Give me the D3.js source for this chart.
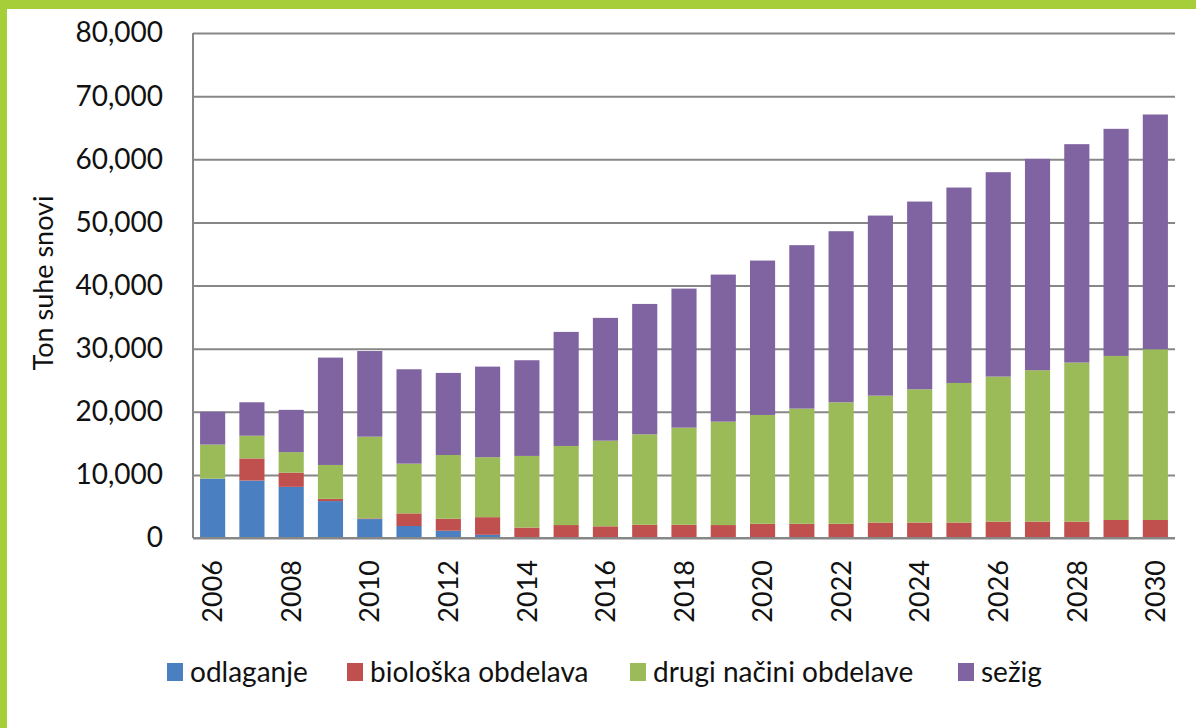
<!DOCTYPE html>
<html>
<head>
<meta charset="utf-8">
<script src="https://cdn.jsdelivr.net/npm/d3@7"></script>
<style>
  body { margin: 0; background: #fff; }
  text { font-family: Lato, "Open Sans", sans-serif; fill: #111; }
</style>
</head>
<body>
<div id="chart"></div>
<script>
// data (tonnes of dry matter)
var years = d3.range(2006, 2031);
var seriesNames = ["odlaganje", "biološka obdelava", "drugi načini obdelave", "sežig"];
var odlaganje = [9400, 9100, 8100, 5850, 3000, 1900, 1150, 500, 0, 0, 0, 0, 0, 0, 0, 0, 0, 0, 0, 0, 0, 0, 0, 0, 0];
var bioloska = [0, 3500, 2250, 350, 100, 2000, 1900, 2800, 1650, 2050, 1850, 2100, 2100, 2050, 2250, 2250, 2250, 2450, 2450, 2450, 2600, 2600, 2600, 2850, 2850];
var drugi = [5400, 3600, 3250, 5370, 12950, 7880, 10100, 9500, 11350, 12530, 13570, 14330, 15380, 16380, 17240, 18250, 19250, 20100, 21110, 22110, 22970, 23980, 25190, 25990, 27050];
var sezig = [5200, 5300, 6700, 17010, 13570, 14950, 13000, 14350, 15160, 18070, 19450, 20650, 22030, 23300, 24460, 25890, 27100, 28530, 29740, 30960, 32380, 33480, 34600, 35980, 37190];
var yTicks = [0, 10000, 20000, 30000, 40000, 50000, 60000, 70000, 80000];
var colors = ["#4a7fc1", "#c0504d", "#9bbb59", "#8064a2"];

var W = 1196, H = 728;
var margin = {top: 33, right: 21, bottom: 190, left: 193},
	width = W - margin.left - margin.right,
	height = H - margin.top - margin.bottom;

var svg = d3.select("#chart").append("svg")
	.attr("width", W)
	.attr("height", H);

svg.append("rect").attr("width", W).attr("height", H).attr("fill", "#fff");
// green frame (left + top)
svg.append("rect").attr("x", 0).attr("y", 0).attr("width", 7).attr("height", H).attr("fill", "#a6ce39");
svg.append("rect").attr("x", 0).attr("y", 0).attr("width", W).attr("height", 9).attr("fill", "#a6ce39");

var g = svg.append("g")
	.attr("transform", "translate(" + margin.left + "," + margin.top + ")");

var table = years.map(function(yr, i) {
	return {year: yr, "odlaganje": odlaganje[i], "biološka obdelava": bioloska[i],
		"drugi načini obdelave": drugi[i], "sežig": sezig[i]};
});

var x = d3.scaleBand().domain(years).range([0, width]).paddingInner(0.36).paddingOuter(0.18);
var y = d3.scaleLinear().domain([0, 80000]).range([height, 0]);

// gridlines
g.append("g")
	.attr("class", "grid")
	.call(d3.axisLeft(y).tickValues(yTicks).tickSize(-width).tickFormat(""))
	.call(function(s) {
		s.select(".domain").remove();
		s.selectAll("line").attr("stroke", "#878787").attr("stroke-width", 2);
	});

var stack = d3.stack().keys(seriesNames);
var layers = stack(table);

g.selectAll(".layer")
	.data(layers)
	.enter().append("g")
	.attr("class", "layer")
	.attr("fill", function(d, i) { return colors[i]; })
	.selectAll("rect")
	.data(function(d) { return d; })
	.enter().append("rect")
	.attr("x", function(d) { return x(d.data.year); })
	.attr("y", function(d) { return y(d[1]); })
	.attr("width", x.bandwidth())
	.attr("height", function(d) { return y(d[0]) - y(d[1]); });

// axis lines
g.append("line").attr("x1", 0).attr("x2", 0).attr("y1", 0).attr("y2", height)
	.attr("stroke", "#878787").attr("stroke-width", 2);
g.append("line").attr("x1", 0).attr("x2", width).attr("y1", height).attr("y2", height)
	.attr("stroke", "#878787").attr("stroke-width", 2);

// y axis labels
g.append("g")
	.call(d3.axisLeft(y).tickValues(yTicks).tickSize(0).tickPadding(30).tickFormat(d3.format(",")))
	.call(function(s) {
		s.select(".domain").remove();
		s.selectAll("text").style("font-size", "28px").style("font-family", "Lato").attr("fill", "#111");
	});

// x axis labels (every second year)
g.append("g")
	.attr("transform", "translate(0," + height + ")")
	.call(d3.axisBottom(x).tickValues(years.filter(function(d) { return d % 2 === 0; })).tickSize(0))
	.call(function(s) {
		s.select(".domain").remove();
		s.selectAll("text")
			.attr("transform", "rotate(-90)")
			.attr("x", -22)
			.attr("y", 0)
			.attr("dy", "0.36em")
			.style("text-anchor", "end")
			.style("font-size", "27px")
			.style("font-family", "Lato")
			.attr("fill", "#111");
	});

// y title
svg.append("text")
	.attr("transform", "translate(53,283) rotate(-90)")
	.attr("text-anchor", "middle")
	.style("font-size", "27px")
	.text("Ton suhe snovi");

// legend
var legendX = [167, 347, 630, 958];
var legend = svg.selectAll(".legend")
	.data(seriesNames)
	.enter().append("g")
	.attr("class", "legend")
	.attr("transform", function(d, i) { return "translate(" + legendX[i] + ",663)"; });

legend.append("rect")
	.attr("width", 16).attr("height", 18)
	.attr("fill", function(d, i) { return colors[i]; });

legend.append("text")
	.attr("x", 23)
	.attr("y", 19)
	.style("font-size", "28px")
	.text(function(d) { return d; });
</script>
</body>
</html>
